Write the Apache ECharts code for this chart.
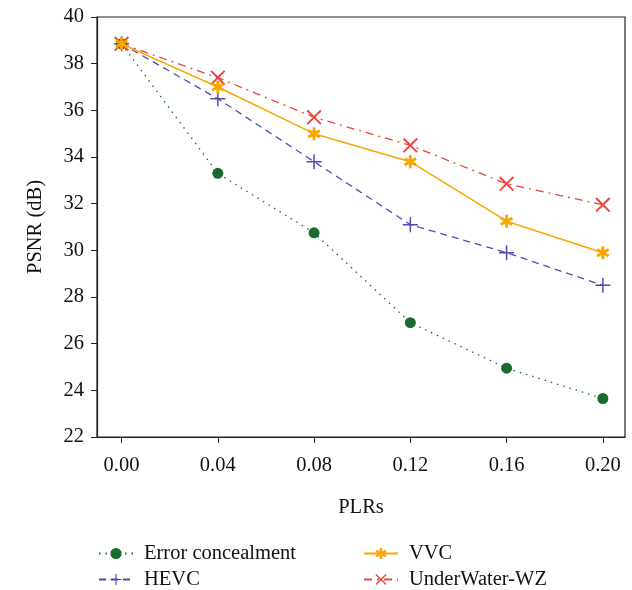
<!DOCTYPE html>
<html>
<head>
<meta charset="utf-8">
<script src="https://cdn.jsdelivr.net/npm/echarts@6/dist/echarts.min.js"></script>
<style>
  html, body { margin: 0; padding: 0; background: #fff; }
  #chart { width: 632px; height: 590px; }
</style>
</head>
<body>
<div id="chart"></div>
<script>
// PSNR vs packet loss rate
const plrs = [0, 0.04, 0.08, 0.12, 0.16, 0.20];
const xTicks = [0, 0.04, 0.08, 0.12, 0.16, 0.20];
const errorConcealment = [38.85, 33.3, 30.75, 26.9, 24.95, 23.65];
const hevc = [38.85, 36.5, 33.8, 31.1, 29.9, 28.5];
const vvc = [38.85, 37.0, 35.0, 33.8, 31.25, 29.9];
const underWaterWZ = [38.85, 37.4, 35.7, 34.5, 32.85, 31.95];

const FONT = "Liberation Serif";
const C = { green: "#1b6b30", blue: "#5549b3", orange: "#f8a600", red: "#e6463c", axis: "#222" };

const PLUS = "path://M-1,-10L1,-10L1,10L-1,10Z M10,-1L10,1L-10,1L-10,-1Z";
const CROSS = "path://M6.36,-7.78L7.78,-6.36L-6.36,7.78L-7.78,6.36Z M-7.78,-6.36L-6.36,-7.78L7.78,6.36L6.36,7.78Z";
const ASTER = "path://M-2.2,-10L2.2,-10L2.2,10L-2.2,10Z " +
  "M7.56,-6.91L9.76,-3.09L-7.56,6.91L-9.76,3.09Z " +
  "M-9.76,-3.09L-7.56,-6.91L9.76,3.09L7.56,6.91Z";

function pairs(vals) {
  return plrs.map(function (x, i) { return [x, vals[i]]; });
}

function legendAt(name, left, top) {
  return {
    data: [name],
    left: left,
    top: top,
    itemWidth: 34,
    itemHeight: 14,
    textStyle: { fontFamily: FONT, fontSize: 20.5, color: "#111", padding: [0, 0, 0, 6] }
  };
}

const chart = echarts.init(document.getElementById("chart"));
chart.setOption({
  animation: false,
  backgroundColor: "#fff",
  grid: { left: 97, top: 17, right: 7, bottom: 153, show: true, borderColor: C.axis, borderWidth: 1.2 },
  legend: [
    legendAt("Error concealment", 93, 538),
    legendAt("VVC", 358, 538),
    legendAt("HEVC", 93, 564),
    legendAt("UnderWater-WZ", 358, 564)
  ],
  xAxis: {
    type: "value",
    min: -0.0102,
    max: 0.2092,
    name: "PLRs",
    nameLocation: "middle",
    nameGap: 60,
    nameTextStyle: { fontFamily: FONT, fontSize: 20.5, color: "#111" },
    axisLine: { onZero: false, lineStyle: { color: C.axis, width: 1.2 } },
    axisTick: { show: true, length: 6, customValues: xTicks, lineStyle: { color: C.axis } },
    axisLabel: {
      customValues: xTicks,
      margin: 18,
      fontFamily: FONT, fontSize: 20.5, color: "#111",
      formatter: function (v) { return v.toFixed(2); }
    },
    splitLine: { show: false }
  },
  yAxis: {
    type: "value",
    min: 22,
    max: 40,
    interval: 2,
    name: "PSNR (dB)",
    nameLocation: "middle",
    nameGap: 51,
    nameTextStyle: { fontFamily: FONT, fontSize: 20.5, color: "#111" },
    axisLine: { show: true, onZero: false, lineStyle: { color: C.axis, width: 1.2 } },
    axisTick: { show: true, length: 6, lineStyle: { color: C.axis } },
    axisLabel: { margin: 13, fontFamily: FONT, fontSize: 20.5, color: "#111" },
    splitLine: { show: false }
  },
  series: [
    {
      name: "Error concealment",
      type: "line",
      data: pairs(errorConcealment),
      symbol: "circle",
      symbolSize: 11,
      itemStyle: { color: C.green },
      lineStyle: { color: C.green, width: 1.3, type: [1.5, 5] },
      z: 2
    },
    {
      name: "HEVC",
      type: "line",
      data: pairs(hevc),
      symbol: PLUS,
      symbolSize: 15,
      itemStyle: { color: C.blue },
      lineStyle: { color: C.blue, width: 1.3, type: [7, 5] },
      z: 3
    },
    {
      name: "VVC",
      type: "line",
      data: pairs(vvc),
      symbol: ASTER,
      symbolSize: 13,
      itemStyle: { color: C.orange },
      lineStyle: { color: C.orange, width: 1.5, type: "solid" },
      z: 5
    },
    {
      name: "UnderWater-WZ",
      type: "line",
      data: pairs(underWaterWZ),
      symbol: CROSS,
      symbolSize: 15,
      itemStyle: { color: C.red },
      lineStyle: { color: C.red, width: 1.3, type: [8, 5, 2, 5] },
      z: 4
    }
  ]
});
</script>
</body>
</html>
